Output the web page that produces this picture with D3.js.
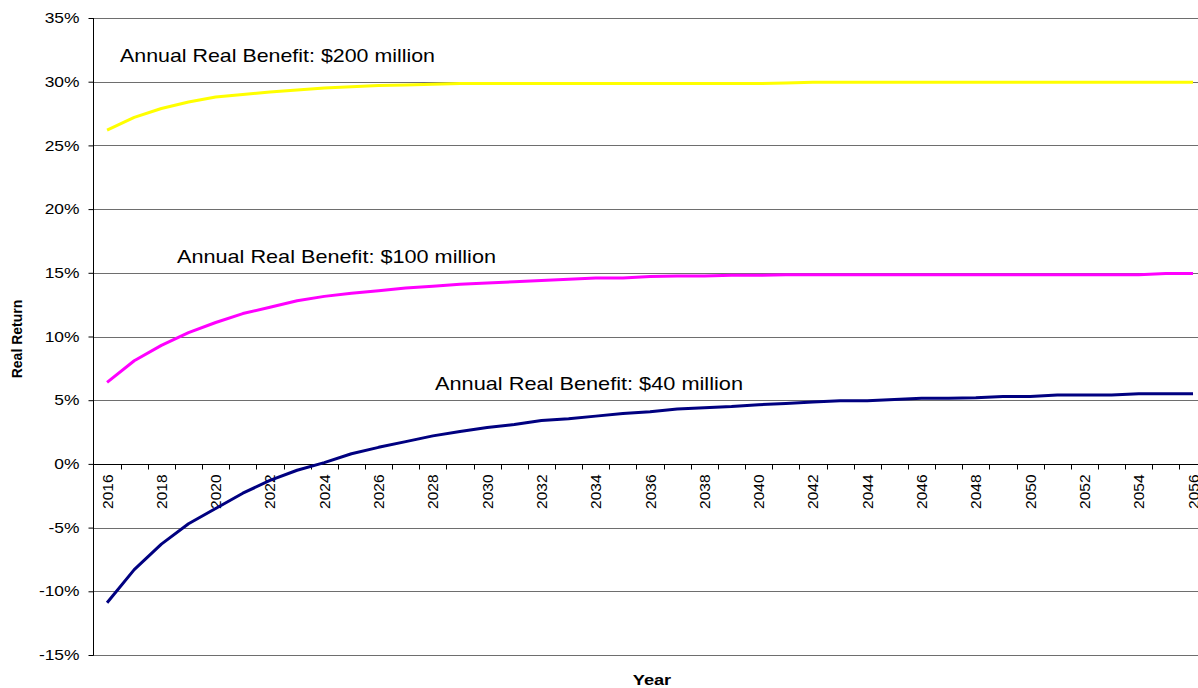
<!DOCTYPE html>
<html>
<head>
<meta charset="utf-8">
<script src="https://cdn.jsdelivr.net/npm/d3@7"></script>
<style>
  body { margin: 0; background: #fff; }
  svg { display: block; font-family: "Liberation Sans", Arial, sans-serif; }
</style>
</head>
<body>
<svg id="chart" width="1198" height="688"></svg>
<script>
// data
var years = d3.range(2016, 2057);
var yTicks = [-15, -10, -5, 0, 5, 10, 15, 20, 25, 30, 35];

var benefit200 = [26.2, 27.2, 27.9, 28.4, 28.8, 29.0, 29.2, 29.35, 29.5, 29.6, 29.7, 29.75, 29.8, 29.85, 29.85,
  29.85, 29.85, 29.85, 29.85, 29.85, 29.85, 29.85, 29.85, 29.85, 29.85, 29.9, 29.95, 29.95, 29.95, 29.95, 29.95,
  29.95, 29.95, 29.95, 29.95, 29.95, 29.95, 29.95, 29.95, 29.95, 29.95];
var benefit100 = [6.4, 8.1, 9.3, 10.3, 11.1, 11.8, 12.3, 12.8, 13.15, 13.4, 13.6, 13.8, 13.95, 14.1, 14.2,
  14.3, 14.4, 14.5, 14.6, 14.6, 14.7, 14.75, 14.75, 14.8, 14.8, 14.85, 14.85, 14.85, 14.85, 14.85, 14.85,
  14.85, 14.85, 14.85, 14.85, 14.85, 14.85, 14.85, 14.85, 14.95, 14.95];
var benefit40 = [-10.9, -8.3, -6.3, -4.7, -3.5, -2.3, -1.3, -0.5, 0.1, 0.8, 1.3, 1.75, 2.2, 2.55, 2.85,
  3.1, 3.4, 3.55, 3.75, 3.95, 4.1, 4.3, 4.4, 4.5, 4.65, 4.75, 4.85, 4.95, 4.95, 5.05, 5.15,
  5.15, 5.2, 5.3, 5.3, 5.4, 5.4, 5.4, 5.5, 5.5, 5.5];

var seriesNames = ["Annual Real Benefit: $200 million", "Annual Real Benefit: $100 million", "Annual Real Benefit: $40 million"];
var seriesValues = [benefit200, benefit100, benefit40];
var seriesColors = ["#ffff00", "#ff00ff", "#000080"];

var svg = d3.select("#chart");

var x = d3.scaleBand().domain(years).range([93.5, 1206.6]).padding(0);
var y = d3.scaleLinear().domain([-15, 35]).range([655, 18]);
var mid = function(yr){ return x(yr) + x.bandwidth()/2; };

// the reference text is a bit wider than the font, stretch it
function widen(sel, k){
  sel.each(function(){
    var w = this.getComputedTextLength();
    d3.select(this).attr("textLength", w*k).attr("lengthAdjust", "spacingAndGlyphs");
  });
}

// gridlines
svg.append("g")
  .selectAll("line")
  .data(yTicks)
  .join("line")
  .attr("x1", 93).attr("x2", 1198)
  .attr("y1", function(d){ return Math.round(y(d)) + 0.5; })
  .attr("y2", function(d){ return Math.round(y(d)) + 0.5; })
  .attr("stroke", function(d){ return d == 0 ? "#000" : "#6e6e6e"; })
  .attr("stroke-width", 1);

// y axis
var yAxis = svg.append("g")
  .attr("transform", "translate(93.5,0)")
  .call(d3.axisLeft(y).tickValues(yTicks).tickSize(5).tickPadding(9)
    .tickFormat(function(d){ return d + "%"; }));
yAxis.select(".domain").attr("stroke", "#000").attr("d", "M0," + y(35) + "V" + (y(-15)+0.5));
yAxis.selectAll(".tick line").attr("stroke", "#000");
yAxis.selectAll("text").attr("font-size", 14.5).attr("fill", "#000")
  .attr("font-family", "Liberation Sans, Arial, sans-serif")
  .call(widen, 1.2);

// x axis tick marks at category edges
var zeroY = Math.round(y(0)) + 0.5;
svg.append("g")
  .selectAll("line")
  .data(years.slice(1))
  .join("line")
  .attr("x1", function(d){ return Math.round(x(d)) + 0.5; })
  .attr("x2", function(d){ return Math.round(x(d)) + 0.5; })
  .attr("y1", zeroY).attr("y2", zeroY + 5)
  .attr("stroke", "#000");

// x labels, every other year, rotated
svg.append("g")
  .selectAll("text")
  .data(years.filter(function(d){ return (d - 2016) % 2 == 0; }))
  .join("text")
  .attr("transform", function(d){ return "translate(" + (mid(d) + 5.5) + "," + (zeroY + 10) + ") rotate(-90)"; })
  .attr("text-anchor", "end")
  .attr("font-size", 15.5)
  .text(function(d){ return d; });

// lines
var line = d3.line()
  .x(function(d, i){ return mid(years[i]); })
  .y(function(d){ return y(d); });

svg.append("g")
  .selectAll("path")
  .data(seriesValues)
  .join("path")
  .attr("d", line)
  .attr("fill", "none")
  .attr("stroke", function(d, i){ return seriesColors[i]; })
  .attr("stroke-width", 3)
  .attr("stroke-linejoin", "round");

// series labels
var labelPos = [[120, 62, 315], [177, 263, 319], [435, 390, 308]];
svg.append("g")
  .selectAll("text")
  .data(seriesNames)
  .join("text")
  .attr("x", function(d, i){ return labelPos[i][0]; })
  .attr("y", function(d, i){ return labelPos[i][1]; })
  .attr("font-size", 19)
  .attr("fill", "#000")
  .attr("textLength", function(d, i){ return labelPos[i][2]; })
  .attr("lengthAdjust", "spacingAndGlyphs")
  .text(function(d){ return d; });

// axis titles
svg.append("text")
  .attr("transform", "translate(21.5,339) rotate(-90)")
  .attr("text-anchor", "middle")
  .attr("font-size", 14)
  .attr("font-weight", "bold")
  .text("Real Return");

svg.append("text")
  .attr("x", 652).attr("y", 685)
  .attr("text-anchor", "middle")
  .attr("font-size", 14)
  .attr("font-weight", "bold")
  .text("Year")
  .call(widen, 1.3);
</script>
</body>
</html>
